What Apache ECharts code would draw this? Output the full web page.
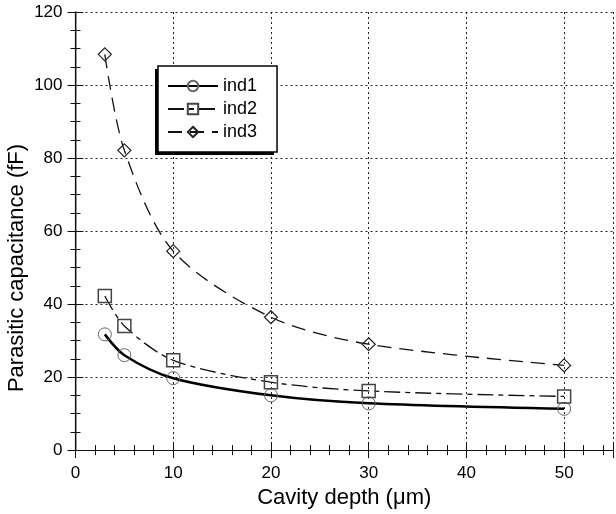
<!DOCTYPE html>
<html><head><meta charset="utf-8">
<script src="https://cdn.jsdelivr.net/npm/echarts@6/dist/echarts.min.js"></script>
<style>html,body{margin:0;padding:0;background:#fff}#c{width:616px;height:514px}</style>
</head><body><div id="c"></div>
<script>
const depth = [3, 5, 10, 20, 30, 50];
const ind1 = [31.7, 26.0, 19.7, 15.0, 12.8, 11.3];
const ind2 = [42.2, 34.0, 24.6, 18.6, 16.2, 14.7];
const ind3 = [108.4, 82.1, 54.5, 36.4, 29.0, 23.2];
const xTicks = [0, 10, 20, 30, 40, 50];
const yTicks = [0, 20, 40, 60, 80, 100, 120];
const seriesNames = ['ind1', 'ind2', 'ind3'];
const xTitle = 'Cavity depth (\u03bcm)';
const yTitle = 'Parasitic capacitance (fF)';

const FONT = "'Liberation Sans', Arial, sans-serif";
const pts = (ys) => depth.map((x, i) => [x, ys[i]]);

const chart = echarts.init(document.getElementById('c'), null, {renderer: 'canvas'});
const gridLine = {show: true, lineStyle: {color: '#222', width: 1, type: [2, 3]}};
const baseX = {
  type: 'value', min: 0, max: 55, interval: 10,
  axisTick: {inside: true, length: 8, lineStyle: {color: '#111'}},
  minorTick: {show: true, splitNumber: 5, length: 5, lineStyle: {color: '#111'}},
};
const baseY = {
  type: 'value', min: 0, max: 120, interval: 20,
  axisTick: {inside: true, length: 8, lineStyle: {color: '#111'}},
  minorTick: {show: true, splitNumber: 4, length: 5, lineStyle: {color: '#111'}},
};
const legendBase = {
  orient: 'vertical',
  padding: [11, 20, 11, 9], itemGap: 5, itemWidth: 50, itemHeight: 13,
  textStyle: {color: '#000', fontFamily: FONT, fontSize: 18},
  data: seriesNames, selectedMode: false
};

chart.setOption({
  animation: false,
  backgroundColor: '#fff',
  grid: {left: 75.5, top: 12, width: 543, height: 441},
  xAxis: [
    Object.assign({}, baseX, {
      position: 'bottom',
      axisLine: {show: true, lineStyle: {color: '#111', width: 1.2}},
      splitLine: gridLine,
      axisLabel: {show: true, margin: 15, color: '#000', fontFamily: FONT, fontSize: 17,
        formatter: v => xTicks.includes(v) ? String(v) : ''},
      name: xTitle, nameLocation: 'middle', nameGap: 30,
      nameTextStyle: {color: '#000', fontFamily: FONT, fontSize: 22}
    }),
    Object.assign({}, baseX, {
      position: 'top',
      axisLine: {show: true, lineStyle: {color: '#111', width: 1.2}},
      splitLine: {show: false},
      axisLabel: {show: false}
    })
  ],
  yAxis: [
    Object.assign({}, baseY, {
      position: 'left',
      axisLine: {show: true, lineStyle: {color: '#888', width: 1.5}},
      splitLine: gridLine,
      axisLabel: {show: true, margin: 13, color: '#000', fontFamily: FONT, fontSize: 17,
        formatter: v => yTicks.includes(v) ? String(v) : ''}
    }),
    Object.assign({}, baseY, {
      position: 'right',
      axisLine: {show: true, lineStyle: {color: '#111', width: 1.2}},
      splitLine: {show: false},
      axisLabel: {show: false}
    })
  ],
  legend: [
    Object.assign({}, legendBase, {
      left: 155, top: 69, z: 3, backgroundColor: '#000', borderWidth: 0,
      textStyle: {color: '#000', fontFamily: FONT, fontSize: 18}
    }),
    Object.assign({}, legendBase, {
      left: 158, top: 66, z: 4, backgroundColor: '#fff', borderColor: '#000', borderWidth: 1.5
    })
  ],
  graphic: [{
    type: 'text', x: 17, y: 268, rotation: Math.PI / 2,
    style: {text: yTitle, fill: '#000', font: "22px 'Liberation Sans', Arial, sans-serif",
      textAlign: 'center', textVerticalAlign: 'middle'}
  }],
  series: [
    {
      name: seriesNames[0], type: 'line', data: pts(ind1), smooth: 0.3,
      symbol: 'circle', symbolSize: 13,
      lineStyle: {color: '#000', width: 2.5, type: 'solid'},
      itemStyle: {color: 'rgba(0,0,0,0)', borderColor: '#666', borderWidth: 1}
    },
    {
      name: seriesNames[1], type: 'line', data: pts(ind2), smooth: 0.3,
      symbol: 'rect', symbolSize: 13,
      lineStyle: {color: '#111', width: 1.3, type: [16, 5, 5, 5]},
      itemStyle: {color: 'rgba(0,0,0,0)', borderColor: '#444', borderWidth: 1.5}
    },
    {
      name: seriesNames[2], type: 'line', data: pts(ind3), smooth: 0.3,
      symbol: 'diamond', symbolSize: 13,
      lineStyle: {color: '#111', width: 1.3, type: [14, 8]},
      itemStyle: {color: 'rgba(0,0,0,0)', borderColor: '#222', borderWidth: 1.2}
    }
  ]
});
</script></body></html>
